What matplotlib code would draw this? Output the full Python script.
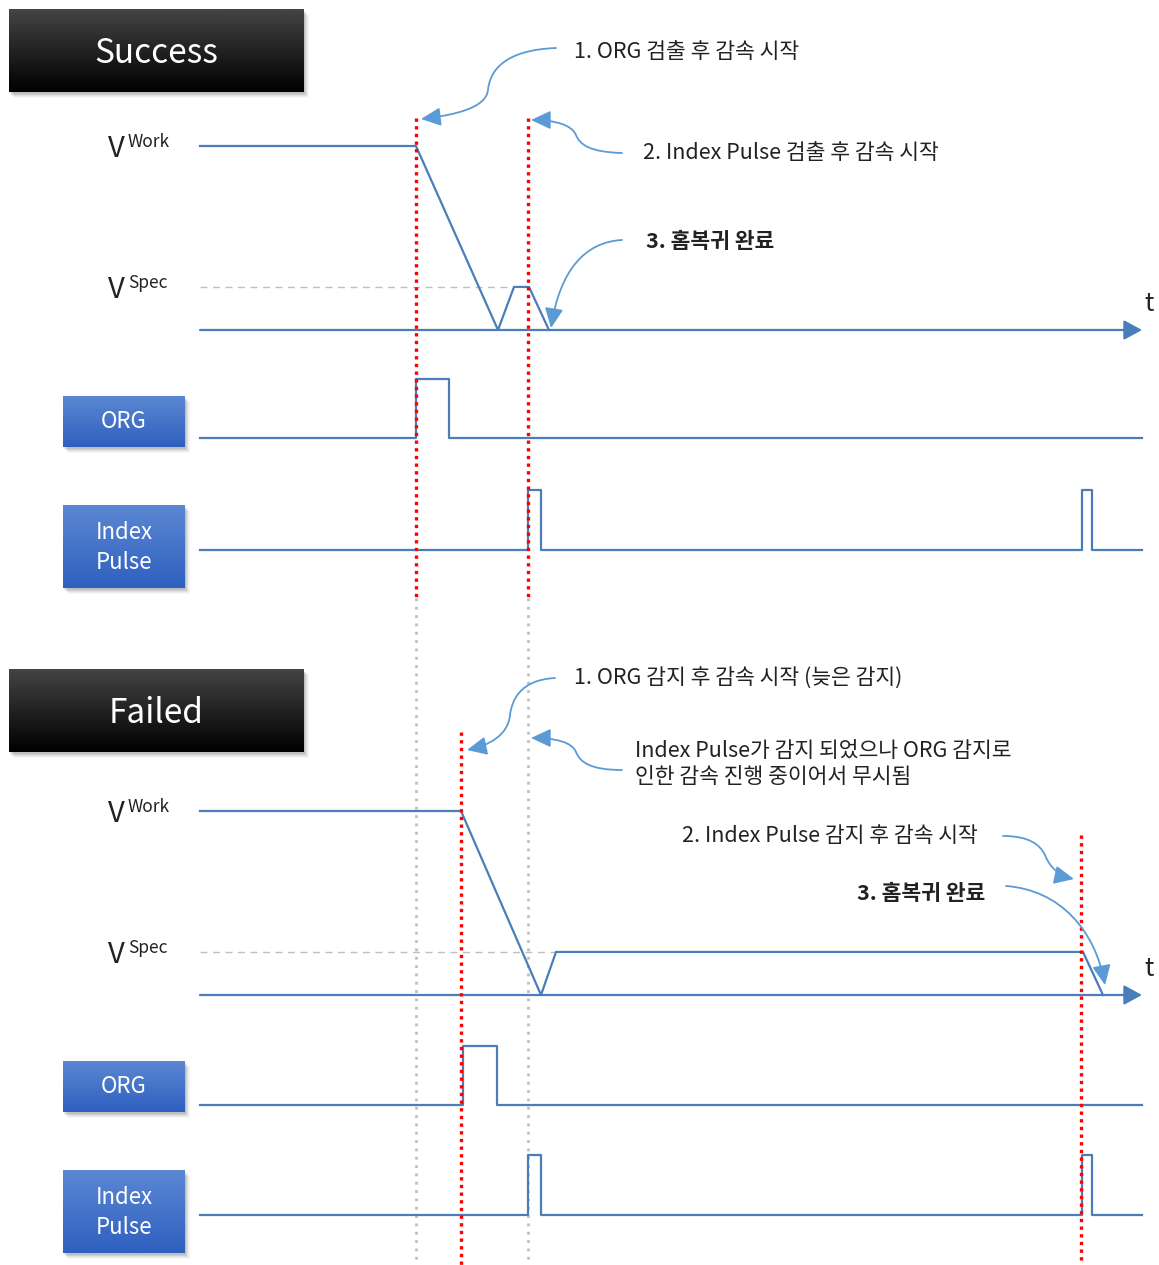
import numpy as np
import matplotlib.pyplot as plt
from matplotlib.patches import Rectangle, FancyArrowPatch
from matplotlib.path import Path

plt.rcParams['font.family'] = ['Noto Sans CJK KR', 'DejaVu Sans']

# Time events (x in picture units), levels normalised to V_work = 1
v_spec = 0.234

succ_speed_t = [200, 416, 498, 514, 529, 549]
succ_speed_v = [1, 1, 0, v_spec, v_spec, 0]
fail_speed_t = [200, 461, 541, 556, 1083, 1103]
fail_speed_v = [1, 1, 0, v_spec, v_spec, 0]

succ_org_pulses = [(416, 449)]
fail_org_pulses = [(463, 497)]
succ_index_pulses = [(528, 541), (1082, 1092)]
fail_index_pulses = [(528, 541), (1082, 1092)]

succ_marks = [416, 528]          # red dotted: deceleration starts
fail_marks = [461, 1081]
ghost_marks = [416, 528]         # grey dotted: success timing carried down

# panel layout (y baselines in picture pixels)
panels = {
    'Success': dict(top=9, speed_base=330, speed_h=184, org_base=438, idx_base=550,
                    speed_t=succ_speed_t, speed_v=succ_speed_v,
                    org=succ_org_pulses, idx=succ_index_pulses),
    'Failed': dict(top=669, speed_base=995, speed_h=184, org_base=1105, idx_base=1215,
                   speed_t=fail_speed_t, speed_v=fail_speed_v,
                   org=fail_org_pulses, idx=fail_index_pulses),
}

W, H = 1159, 1265
line_c = '#4A7EBB'
arrow_c = '#5B9BD5'
txt_c = '#222222'
fs_note = 15.5

fig = plt.figure(figsize=(W / 100, H / 100), dpi=100)
ax = fig.add_axes([0, 0, 1, 1])
ax.set_xlim(0, W)
ax.set_ylim(H, 0)
ax.axis('off')


def shadow(x, y, w, h):
    for i, a in enumerate([0.08, 0.07, 0.05, 0.04, 0.03]):
        ax.add_patch(Rectangle((x + 1 + i, y + 2 + i), w, h, color='black', alpha=a, lw=0, zorder=1))


def grad_box(x, y, w, h, c_top, c_bot, label, fs, dy=0, lsp=1.15):
    shadow(x, y, w, h)
    grad = np.linspace(0, 1, 64)[:, None, None]
    ct = np.array(plt.matplotlib.colors.to_rgb(c_top))
    cb = np.array(plt.matplotlib.colors.to_rgb(c_bot))
    img = ct * (1 - grad) + cb * grad
    im = ax.imshow(img, extent=(x, x + w, y + h, y), aspect='auto', zorder=2)
    rect = Rectangle((x, y), w, h, fc='none', ec='none', zorder=2)
    ax.add_patch(rect)
    im.set_clip_path(rect)
    ax.text(x + w / 2, y + h / 2 + dy, label, color='white', fontsize=fs, ha='center', va='center',
            linespacing=lsp, zorder=3)


def pulses(base, spans, h, x0=200, x1=1142):
    xs, ys = [x0], [base]
    for a, b in spans:
        xs += [a, a, b, b]
        ys += [base, base - h, base - h, base]
    xs.append(x1)
    ys.append(base)
    ax.plot(xs, ys, color=line_c, lw=1.6, zorder=4)


def curve_arrow(pts):
    codes = [Path.MOVETO] + [Path.CURVE4] * (len(pts) - 1)
    p = FancyArrowPatch(path=Path(pts, codes), arrowstyle='-|>,head_length=0.6,head_width=0.28',
                        mutation_scale=20, color=arrow_c, lw=1.3, shrinkA=0, shrinkB=0, zorder=6)
    ax.add_patch(p)


for name, p in panels.items():
    grad_box(9, p['top'], 295, 83, '#444444', '#000000', name, 24, dy=3)
    base, h = p['speed_base'], p['speed_h']
    # V labels
    yw = base - h
    ys = base - v_spec * h
    for yy, sup in [(yw, 'Work'), (ys, 'Spec')]:
        ax.text(108, yy + 3, 'V', fontsize=21, ha='left', va='center', color=txt_c, zorder=3)
        ax.text(128, yy - 4, sup, fontsize=12.5, ha='left', va='center', color=txt_c, zorder=3)
    # V_spec guide
    ax.plot([200, p['speed_t'][3]], [ys, ys], color='#BFBFBF', lw=1, dashes=(5, 4), zorder=3)
    # speed profile
    sy = [base - v * h for v in p['speed_v']]
    ax.plot(p['speed_t'], sy, color=line_c, lw=1.6, zorder=4)
    # time axis
    ax.add_patch(FancyArrowPatch((200, base), (1142, base), arrowstyle='-|>,head_length=0.55,head_width=0.3',
                                 mutation_scale=20, color=line_c, lw=1.6, shrinkA=0, shrinkB=0, zorder=4))
    ax.text(1149, base - 26, 't', fontsize=18, ha='center', va='center', color=txt_c)
    # signals
    grad_box(63, base + 66, 122, 51, '#5b87d3', '#2f60bf', 'ORG', 16)
    pulses(p['org_base'], p['org'], 59)
    grad_box(63, base + 175, 122, 83, '#5b87d3', '#2f60bf', 'Index\nPulse', 16, dy=1, lsp=1.4)
    pulses(p['idx_base'], p['idx'], 60)

# vertical markers
for x in ghost_marks:
    ax.plot([x, x], [598, 1262], color='#BFBFBF', lw=2, ls=(0, (1, 2)), zorder=2)
for x in succ_marks:
    ax.plot([x, x], [118, 598], color='red', lw=2.4, ls=(0, (1, 1.3)), zorder=5)
ax.plot([fail_marks[0]] * 2, [732, 1265], color='red', lw=2.4, ls=(0, (1, 1.3)), zorder=5)
ax.plot([fail_marks[1]] * 2, [835, 1262], color='red', lw=2.4, ls=(0, (1, 1.3)), zorder=5)

# annotations - Success
ax.text(574, 52, '1. ORG 검출 후 감속 시작', fontsize=fs_note, va='center', color=txt_c)
ax.text(643, 153, '2. Index Pulse 검출 후 감속 시작', fontsize=fs_note, va='center', color=txt_c)
ax.text(646, 241, '3. 홈복귀 완료', fontsize=fs_note, va='center', color=txt_c, fontweight='bold')
curve_arrow([(556, 48), (505, 50), (490, 70), (488, 90), (486, 108), (455, 115), (421, 119)])
curve_arrow([(622, 153), (590, 152), (580, 145), (576, 135), (572, 125), (555, 120), (531, 120)])
curve_arrow([(622, 240), (585, 242), (560, 270), (551, 328)])

# annotations - Failed
ax.text(574, 679, '1. ORG 감지 후 감속 시작 (늦은 감지)', fontsize=fs_note, va='center', color=txt_c)
ax.text(635, 764, 'Index Pulse가 감지 되었으나 ORG 감지로\n인한 감속 진행 중이어서 무시됨', fontsize=fs_note,
        va='center', color=txt_c, linespacing=1.2)
ax.text(978, 836, '2. Index Pulse 감지 후 감속 시작', fontsize=fs_note, va='center', ha='right', color=txt_c)
ax.text(985, 893, '3. 홈복귀 완료', fontsize=fs_note, va='center', ha='right', color=txt_c, fontweight='bold')
curve_arrow([(555, 678), (520, 680), (512, 700), (510, 715), (508, 735), (490, 745), (467, 750)])
curve_arrow([(622, 770), (590, 770), (580, 762), (576, 752), (572, 742), (555, 738), (531, 738)])
curve_arrow([(1003, 836), (1030, 836), (1040, 845), (1045, 855), (1050, 868), (1060, 876), (1074, 879)])
curve_arrow([(1006, 886), (1060, 890), (1095, 930), (1105, 985)])

fig.savefig('out.png', dpi=100, facecolor='white')
